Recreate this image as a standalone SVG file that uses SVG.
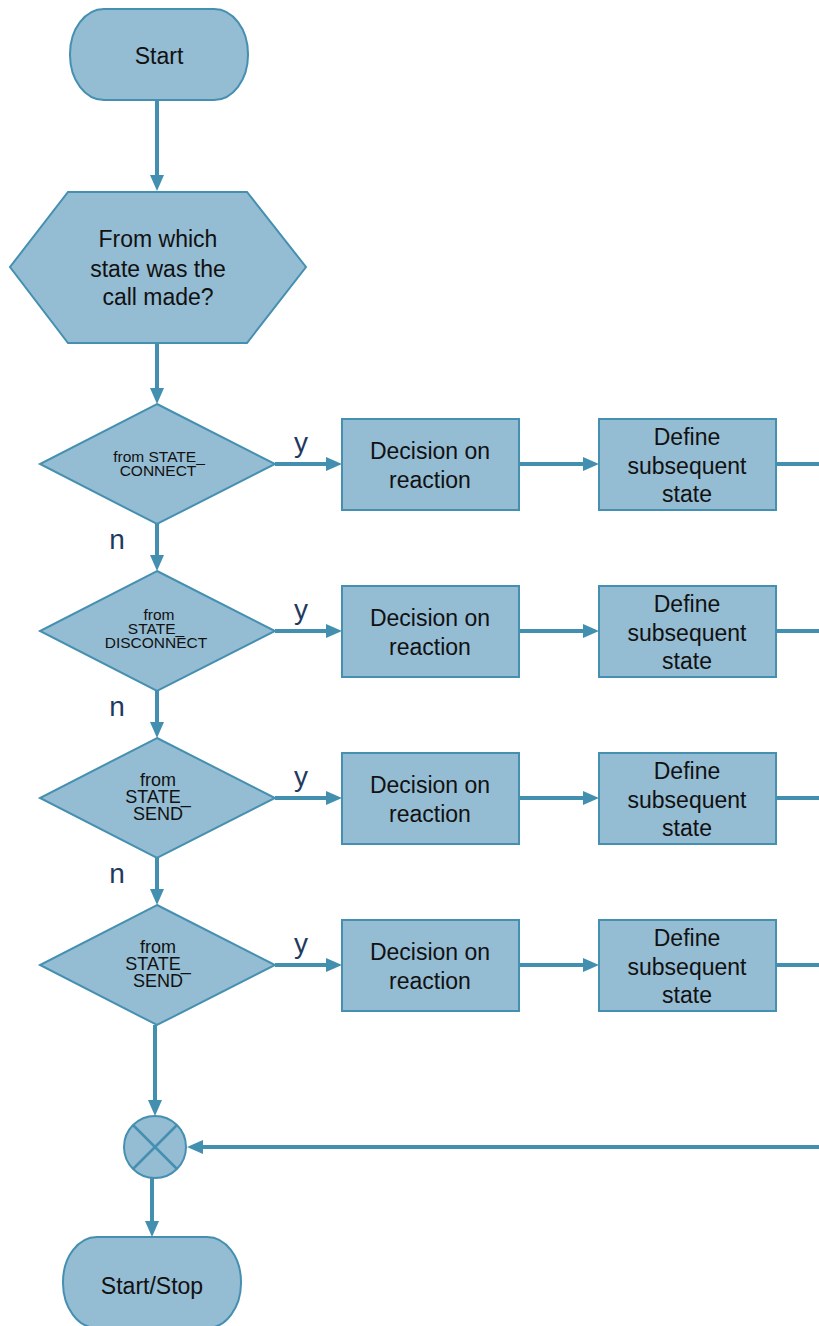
<svg xmlns="http://www.w3.org/2000/svg" width="819" height="1326" viewBox="0 0 819 1326">
<style>
.node{fill:#94bcd3;stroke:#4590b0;stroke-width:2}
.t{font-family:"Liberation Sans",Arial,sans-serif;font-size:23px;fill:#111;text-anchor:middle}
.s{font-family:"Liberation Sans",Arial,sans-serif;font-size:15.5px;fill:#111;text-anchor:middle}
.m{font-family:"Liberation Sans",Arial,sans-serif;font-size:18px;fill:#111;text-anchor:middle}
.lbl{font-family:"Liberation Sans",Arial,sans-serif;font-size:28px;fill:#1f3a60;text-anchor:middle}
.c{fill:none;stroke:#438fb0;stroke-width:4}
.ca{fill:none;stroke:#438fb0;stroke-width:4;marker-end:url(#ah)}
</style>
<defs>
<marker id="ah" viewBox="0 0 16 14" refX="2" refY="7" markerWidth="16" markerHeight="14" markerUnits="userSpaceOnUse" orient="auto">
<path d="M0,0 L16,7 L0,14 Z" fill="#438fb0"/>
</marker>
</defs>
<g id="connectors">
<line class="ca" x1="157" y1="100" x2="157" y2="177"/>
<line class="ca" x1="157" y1="343" x2="157" y2="390"/>
<line class="ca" x1="157" y1="524" x2="157" y2="557"/>
<line class="ca" x1="157" y1="691" x2="157" y2="724"/>
<line class="ca" x1="157" y1="858" x2="157" y2="891"/>
<line class="ca" x1="155" y1="1025" x2="155" y2="1102"/>
<line class="ca" x1="152" y1="1178" x2="152" y2="1223"/>
<line class="ca" x1="819" y1="1147" x2="201" y2="1147"/>
<line class="ca" x1="275" y1="464" x2="328" y2="464"/>
<line class="ca" x1="519" y1="464" x2="585" y2="464"/>
<line class="c" x1="776" y1="464" x2="819" y2="464"/>
<line class="ca" x1="275" y1="631" x2="328" y2="631"/>
<line class="ca" x1="519" y1="631" x2="585" y2="631"/>
<line class="c" x1="776" y1="631" x2="819" y2="631"/>
<line class="ca" x1="275" y1="798" x2="328" y2="798"/>
<line class="ca" x1="519" y1="798" x2="585" y2="798"/>
<line class="c" x1="776" y1="798" x2="819" y2="798"/>
<line class="ca" x1="275" y1="965" x2="328" y2="965"/>
<line class="ca" x1="519" y1="965" x2="585" y2="965"/>
<line class="c" x1="776" y1="965" x2="819" y2="965"/>
<text class="lbl" x="301" y="452">y</text>
<text class="lbl" x="301" y="619">y</text>
<text class="lbl" x="301" y="786">y</text>
<text class="lbl" x="301" y="953">y</text>
<text class="lbl" x="117" y="549">n</text>
<text class="lbl" x="117" y="716">n</text>
<text class="lbl" x="117" y="883">n</text>
</g>
<g id="start">
<rect class="node" x="70" y="9" width="178" height="91" rx="34" ry="45"/>
<text class="t" x="159" y="64">Start</text>
</g>
<g id="question">
<polygon class="node" points="68,192 247,192 306,267 247,343 68,343 10,267"/>
<text class="t" x="158" y="247">From which</text>
<text class="t" x="158" y="277">state was the</text>
<text class="t" x="158" y="305">call made?</text>
</g>
<g id="d1">
<polygon class="node" points="157,404 275,464 157,524 40,464"/>
<text class="s" x="159" y="462">from STATE_</text>
<text class="s" x="158" y="476">CONNECT</text>
</g>
<g id="d2">
<polygon class="node" points="157,571 275,631 157,691 40,631"/>
<text class="s" x="159" y="620">from</text>
<text class="s" x="156" y="634">STATE_</text>
<text class="s" x="156" y="648">DISCONNECT</text>
</g>
<g id="d3">
<polygon class="node" points="157,738 275,798 157,858 40,798"/>
<text class="m" x="158" y="786">from</text>
<text class="m" x="158" y="803">STATE_</text>
<text class="m" x="158" y="820">SEND</text>
</g>
<g id="d4">
<polygon class="node" points="157,905 275,965 157,1025 40,965"/>
<text class="m" x="158" y="953">from</text>
<text class="m" x="158" y="970">STATE_</text>
<text class="m" x="158" y="987">SEND</text>
</g>
<g id="dec1">
<rect class="node" x="342" y="419" width="177" height="91"/>
<text class="t" x="430" y="459">Decision on</text>
<text class="t" x="430" y="488">reaction</text>
</g>
<g id="def1">
<rect class="node" x="599" y="419" width="177" height="91"/>
<text class="t" x="687" y="445">Define</text>
<text class="t" x="687" y="474">subsequent</text>
<text class="t" x="687" y="502">state</text>
</g>
<g id="dec2">
<rect class="node" x="342" y="586" width="177" height="91"/>
<text class="t" x="430" y="626">Decision on</text>
<text class="t" x="430" y="655">reaction</text>
</g>
<g id="def2">
<rect class="node" x="599" y="586" width="177" height="91"/>
<text class="t" x="687" y="612">Define</text>
<text class="t" x="687" y="641">subsequent</text>
<text class="t" x="687" y="669">state</text>
</g>
<g id="dec3">
<rect class="node" x="342" y="753" width="177" height="91"/>
<text class="t" x="430" y="793">Decision on</text>
<text class="t" x="430" y="822">reaction</text>
</g>
<g id="def3">
<rect class="node" x="599" y="753" width="177" height="91"/>
<text class="t" x="687" y="779">Define</text>
<text class="t" x="687" y="808">subsequent</text>
<text class="t" x="687" y="836">state</text>
</g>
<g id="dec4">
<rect class="node" x="342" y="920" width="177" height="91"/>
<text class="t" x="430" y="960">Decision on</text>
<text class="t" x="430" y="989">reaction</text>
</g>
<g id="def4">
<rect class="node" x="599" y="920" width="177" height="91"/>
<text class="t" x="687" y="946">Define</text>
<text class="t" x="687" y="975">subsequent</text>
<text class="t" x="687" y="1003">state</text>
</g>
<g id="merge">
<circle class="node" cx="155" cy="1147" r="31" stroke-width="2.5"/>
<line x1="133" y1="1125" x2="177" y2="1169" stroke="#4590b0" stroke-width="2.5"/>
<line x1="177" y1="1125" x2="133" y2="1169" stroke="#4590b0" stroke-width="2.5"/>
</g>
<g id="end">
<rect class="node" x="63" y="1237" width="178" height="91" rx="34" ry="45"/>
<text class="t" x="152" y="1294">Start/Stop</text>
</g>
</svg>
